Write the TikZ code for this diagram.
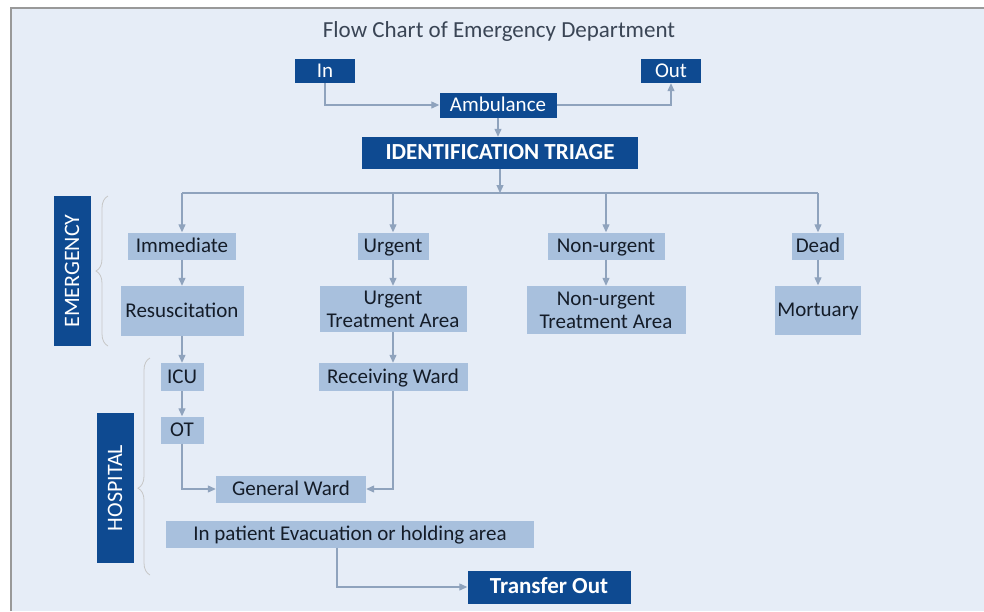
\documentclass[tikz,border=0pt]{standalone}
\usepackage{fontspec}
\setmainfont{Carlito}
\usetikzlibrary{arrows.meta,decorations.pathreplacing}
\definecolor{navy}{HTML}{0E4A91}
\definecolor{pale}{HTML}{A8C0DD}
\definecolor{bgblue}{HTML}{E6EDF7}
\definecolor{wire}{HTML}{8FA3BD}
\definecolor{ink}{HTML}{141C28}
\definecolor{titlec}{HTML}{3A4555}

\begin{document}
\begin{tikzpicture}[x=1pt,y=-1pt,
  dbox/.style={fill=navy,text=white,inner sep=0pt,text height=15pt,text depth=1.5pt,font=\fontsize{21}{23}\selectfont},
  lbox/.style={fill=pale,text=ink,inner sep=0pt,align=center,font=\fontsize{21}{23}\selectfont},
  one/.style={text height=15pt,text depth=1.5pt},
  boxsize/.style 2 args={minimum width=#1pt,minimum height=#2pt},
  ln/.style={draw=wire,line width=1.2pt},
  arr/.style={ln,-{Triangle[length=8pt,width=7pt]}},
  side/.style={fill=navy,text=white,rotate=90,inner sep=0pt,minimum width=150pt,minimum height=37pt,text height=15pt,text depth=1pt,font=\fontsize{22}{24}\selectfont},
  brc/.style={draw=black!22,line width=.8pt,decorate,decoration={brace,amplitude=12pt,#1}}]
\useasboundingbox (0,0) rectangle (984,611);
\fill[white] (0,0) rectangle (984,611);
\fill[bgblue] (11,8) rectangle (984,611);
\draw[black!40,line width=2pt] (11,611) -- (11,8) -- (984,8);
%% top part
\node[font=\fontsize{23}{25}\selectfont,text=titlec] (title) at (499,31) {Flow Chart of Emergency Department};
\node[dbox,boxsize={60}{24}] (in) at (325,71) {In};
\node[dbox,boxsize={60}{24}] (out) at (671,71) {Out};
\node[dbox,boxsize={117}{25}] (amb) at (498,105) {Ambulance};
\node[dbox,boxsize={276}{32},font=\fontsize{23}{25}\selectfont\bfseries] (triage) at (500,153) {IDENTIFICATION TRIAGE};
%% categories
\node[lbox,one,boxsize={108}{27}] (imm) at (182,246) {Immediate};
\node[lbox,one,boxsize={71}{27}] (urg) at (393,246) {Urgent};
\node[lbox,one,boxsize={117}{27}] (nonurg) at (606,246) {Non-urgent};
\node[lbox,one,boxsize={52}{27}] (dead) at (818,246) {Dead};
\node[lbox,one,boxsize={123}{50}] (resus) at (182,311) {Resuscitation};
\node[lbox,boxsize={147}{46}] (uta) at (393,309) {Urgent\\Treatment Area};
\node[lbox,boxsize={159}{48}] (nuta) at (606,310) {Non-urgent\\Treatment Area};
\node[lbox,one,boxsize={86}{49}] (mort) at (818,310) {Mortuary};
%% hospital part
\node[lbox,one,boxsize={43}{28}] (icu) at (182,377) {ICU};
\node[lbox,one,boxsize={149}{28}] (recv) at (393,377) {Receiving Ward};
\node[lbox,one,boxsize={43}{27}] (ot) at (182,430) {OT};
\node[lbox,one,boxsize={150}{27}] (gw) at (291,489) {General Ward};
\node[lbox,one,boxsize={368}{27}] (evac) at (350,534) {In patient Evacuation or holding area};
\node[dbox,boxsize={163}{33},font=\fontsize{23}{25}\selectfont\bfseries] (xfer) at (549,587) {Transfer Out};
%% side labels
\node[side] (emerg) at (72,271) {EMERGENCY};
\node[side] (hosp) at (115,488) {HOSPITAL};
\draw[brc={}] (108,346) -- (108,196);
\draw[brc={aspect=0.4}] (150,575) -- (150,358);
%% connectors
\coordinate (bus) at (500,193);
\draw[arr] (in) |- (amb);
\draw[arr] (amb) -| (out);
\draw[arr] (amb) -- (amb |- triage.north);
\draw[arr] (triage) -- (bus);
\draw[ln] (imm |- bus) -- (dead |- bus);
\foreach \n in {imm,urg,nonurg,dead}
  \draw[arr] (\n |- bus) -- (\n);
\draw[arr] (imm) -- (resus);
\draw[arr] (urg) -- (uta);
\draw[arr] (nonurg) -- (nuta);
\draw[arr] (dead) -- (mort);
\draw[arr] (resus) -- (icu);
\draw[arr] (icu) -- (ot);
\draw[arr] (uta) -- (recv);
\draw[arr] (ot) |- (gw);
\draw[arr] (recv) |- (gw);
\draw[arr] ([xshift=-13pt]evac.south) |- (xfer);
\end{tikzpicture}
\end{document}
